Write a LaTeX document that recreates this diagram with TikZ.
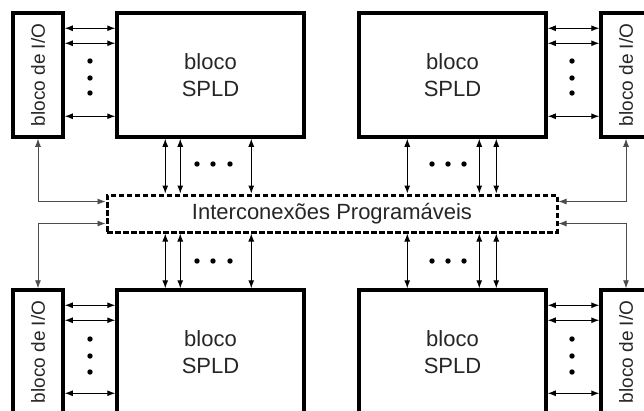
\documentclass[tikz,border=0pt]{standalone}
\usepackage{fontspec}
\setmainfont{Liberation Sans}
\usetikzlibrary{positioning, arrows.meta}
\tikzset{
	>={Latex[length=8pt,width=6pt]}, % filled arrow heads
	spld/.style={draw, line width=3.5pt, minimum width=187pt, minimum height=124pt, align=center, text=black!85, font=\fontsize{22}{27}\selectfont}, % the SPLD blocks
	iobox/.style={draw, line width=3.5pt, minimum width=50pt, minimum height=124pt, text=black!85, font=\fontsize{19}{22}\selectfont}, % the I/O blocks
	bus/.style={draw, line width=3pt, dash pattern=on 5.5pt off 2.5pt, minimum width=450pt, minimum height=37pt, text=black!85, font=\fontsize{22}{25}\selectfont}, % the interconnect
	wire/.style={<->, line width=1pt}, % short links
	side/.style={<->, line width=0.9pt, black!70}, % long links to the I/O blocks
}

\begin{document}
\begin{tikzpicture}[x=1pt, y=-1pt]
		\useasboundingbox (0,0) rectangle (644,410);
		\clip (0,0) rectangle (644,410);
		% Define the blocks
		\node[iobox] (io1) at (38,75) {\rotatebox{90}{bloco de I/O}};
		\node[spld, right=50.5pt of io1] (spld1) {bloco\\SPLD};
		\node[spld, right=51.5pt of spld1] (spld2) {bloco\\SPLD};
		\node[iobox, right=51.5pt of spld2] (io2) {\rotatebox{90}{bloco de I/O}};
		\node[bus] (ic) at (332,213.5) {Interconexões Programáveis};
		\node[iobox, below=149.5pt of io1] (io3) {\rotatebox{90}{bloco de I/O}};
		\node[spld, below=149.5pt of spld1] (spld3) {bloco\\SPLD};
		\node[spld, below=149.5pt of spld2] (spld4) {bloco\\SPLD};
		\node[iobox, below=149.5pt of io2] (io4) {\rotatebox{90}{bloco de I/O}};
		
		% Links between I/O and SPLD
		\draw[wire] ([yshift=-17pt]io1.north east) -- ([yshift=-17pt]spld1.north west);
		\draw[wire] ([yshift=-32pt]io1.north east) -- ([yshift=-32pt]spld1.north west);
		\draw[wire] ([yshift=-105pt]io1.north east) -- ([yshift=-105pt]spld1.north west);
		\draw[wire] ([yshift=-17pt]spld2.north east) -- ([yshift=-17pt]io2.north west);
		\draw[wire] ([yshift=-32pt]spld2.north east) -- ([yshift=-32pt]io2.north west);
		\draw[wire] ([yshift=-105pt]spld2.north east) -- ([yshift=-105pt]io2.north west);
		\draw[wire] ([yshift=-17pt]io3.north east) -- ([yshift=-17pt]spld3.north west);
		\draw[wire] ([yshift=-32pt]io3.north east) -- ([yshift=-32pt]spld3.north west);
		\draw[wire] ([yshift=-105pt]io3.north east) -- ([yshift=-105pt]spld3.north west);
		\draw[wire] ([yshift=-17pt]spld4.north east) -- ([yshift=-17pt]io4.north west);
		\draw[wire] ([yshift=-32pt]spld4.north east) -- ([yshift=-32pt]io4.north west);
		\draw[wire] ([yshift=-105pt]spld4.north east) -- ([yshift=-105pt]io4.north west);
		
		% Links between SPLD and interconnect
		\draw[wire] ([xshift=50pt]spld1.south west) -- ([xshift=50pt]spld1.south west |- ic.north);
		\draw[wire] ([xshift=65pt]spld1.south west) -- ([xshift=65pt]spld1.south west |- ic.north);
		\draw[wire] ([xshift=136pt]spld1.south west) -- ([xshift=136pt]spld1.south west |- ic.north);
		\draw[wire] ([xshift=50pt]spld2.south west) -- ([xshift=50pt]spld2.south west |- ic.north);
		\draw[wire] ([xshift=122pt]spld2.south west) -- ([xshift=122pt]spld2.south west |- ic.north);
		\draw[wire] ([xshift=139pt]spld2.south west) -- ([xshift=139pt]spld2.south west |- ic.north);
		\draw[wire] ([xshift=50pt]spld3.north west) -- ([xshift=50pt]spld3.north west |- ic.south);
		\draw[wire] ([xshift=65pt]spld3.north west) -- ([xshift=65pt]spld3.north west |- ic.south);
		\draw[wire] ([xshift=136pt]spld3.north west) -- ([xshift=136pt]spld3.north west |- ic.south);
		\draw[wire] ([xshift=50pt]spld4.north west) -- ([xshift=50pt]spld4.north west |- ic.south);
		\draw[wire] ([xshift=122pt]spld4.north west) -- ([xshift=122pt]spld4.north west |- ic.south);
		\draw[wire] ([xshift=139pt]spld4.north west) -- ([xshift=139pt]spld4.north west |- ic.south);
		
		% Links between I/O and interconnect
		\draw[side] (io1.south) |- ([yshift=-8pt]ic.north west);
		\draw[side] (io3.north) |- ([yshift=10pt]ic.south west);
		\draw[side] (io2.south) |- ([yshift=-8pt]ic.north east);
		\draw[side] (io4.north) |- ([yshift=10pt]ic.south east);
		
		% Dots
		\fill (90,61) circle (2.7) (90,78) circle (2.7) (90,93) circle (2.7);
		\fill (572,61) circle (2.7) (572,78) circle (2.7) (572,93) circle (2.7);
		\fill (90,339) circle (2.7) (90,356) circle (2.7) (90,372) circle (2.7);
		\fill (572,339) circle (2.7) (572,356) circle (2.7) (572,372) circle (2.7);
		\fill (197,164) circle (2.7) (213,164) circle (2.7) (230,164) circle (2.7);
		\fill (432,164) circle (2.7) (448,164) circle (2.7) (464,164) circle (2.7);
		\fill (197,261) circle (2.7) (213,261) circle (2.7) (230,261) circle (2.7);
		\fill (432,261) circle (2.7) (448,261) circle (2.7) (464,261) circle (2.7);
	\end{tikzpicture}
\end{document}
